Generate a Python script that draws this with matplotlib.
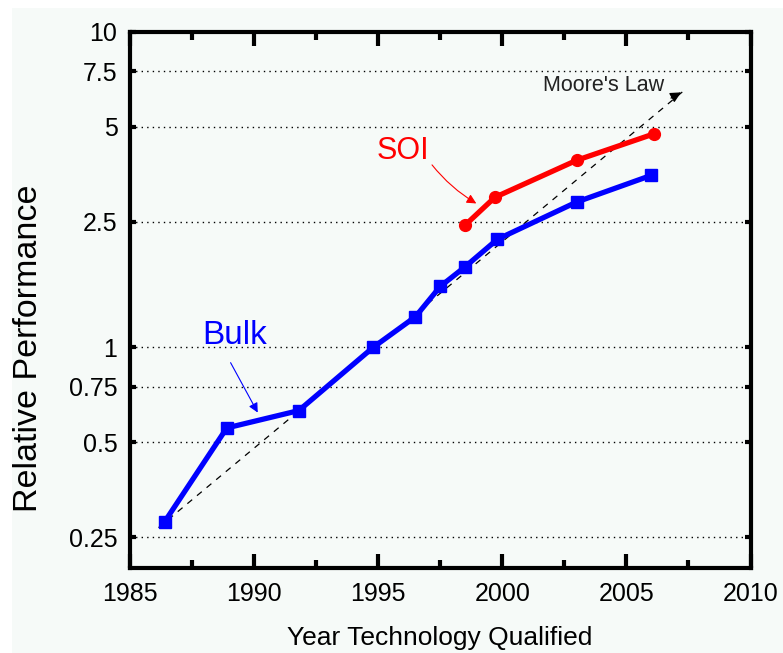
import matplotlib
matplotlib.use('Agg')
import matplotlib.pyplot as plt
from matplotlib.patches import Rectangle

plt.rcParams['font.family'] = ['Liberation Sans', 'DejaVu Sans']

# data
bulk_years = [1986.4, 1988.9, 1991.8, 1994.8, 1996.5, 1997.5, 1998.5, 1999.8, 2003.0, 2006.0]
bulk_perf  = [0.28, 0.555, 0.63, 1.0, 1.25, 1.56, 1.80, 2.20, 2.89, 3.51]
soi_years  = [1998.5, 1999.7, 2003.0, 2006.1]
soi_perf   = [2.44, 2.99, 3.92, 4.75]
moore_years = [1986.15, 2007.3]
moore_perf  = [0.268, 6.5]

ytick_vals   = [0.25, 0.5, 0.75, 1, 2.5, 5, 7.5, 10]
ytick_labels = ["0.25", "0.5", "0.75", "1", "2.5", "5", "7.5", "10"]
xtick_major  = [1985, 1990, 1995, 2000, 2005, 2010]
xtick_minor  = [1987.5, 1992.5, 1997.5, 2002.5, 2007.5]

BG = "#f6faf8"

fig = plt.figure(figsize=(7.83, 6.53), dpi=100)
fig.patch.set_facecolor("white")
fig.add_artist(Rectangle((12 / 783, 0), 1 - 12 / 783, 1 - 8 / 653,
                         transform=fig.transFigure, facecolor=BG,
                         edgecolor="none", zorder=-10))

ax = fig.add_axes([0.166, 0.1306, 0.7925, 0.8204])
ax.set_facecolor(BG)
ax.set_yscale("log")
ax.set_xlim(1985, 2010)
ax.set_ylim(0.2, 10)

# dotted horizontal grid at labelled values
for v in ytick_vals[:-1]:
    ax.axhline(v, color="black", lw=1.0, ls=(0, (1, 3)), zorder=1)

# Moore's law trend
ax.plot(moore_years, moore_perf, color="black", lw=0.9, ls=(0, (5, 5)), zorder=2)
ax.annotate("", xy=(moore_years[1], moore_perf[1]),
            xytext=(moore_years[1] - 0.6, moore_perf[1] * 0.94),
            arrowprops=dict(arrowstyle="-|>", color="black", lw=0.9,
                            mutation_scale=16), zorder=2)

ax.plot(bulk_years, bulk_perf, color="#0000ff", lw=3.8, marker="s",
        markersize=9, zorder=4)
ax.plot(soi_years, soi_perf, color="#ff0000", lw=3.8, marker="o",
        markersize=8.5, zorder=4)

ax.text(2004.1, 6.79, "Moore's Law", fontsize=15.5, color="#222222",
        ha="center", va="center")
ax.text(1989.2, 1.09, "Bulk", fontsize=24, color="#0000ff",
        ha="center", va="center")
ax.text(1996.0, 4.2, "SOI", fontsize=22, color="#ff0000",
        ha="center", va="center")

ax.annotate("", xy=(1990.2, 0.61), xytext=(1989.0, 0.91),
            arrowprops=dict(arrowstyle="-|>", color="#0000ff", lw=0.8,
                            mutation_scale=14))
ax.annotate("", xy=(1999.05, 2.83), xytext=(1997.1, 3.85),
            arrowprops=dict(arrowstyle="-|>", color="#ff0000", lw=0.8,
                            mutation_scale=14,
                            connectionstyle="arc3,rad=0.1"))

ax.set_yticks(ytick_vals)
ax.set_yticklabels(ytick_labels)
ax.yaxis.set_minor_locator(matplotlib.ticker.NullLocator())
ax.set_xticks(xtick_major)
ax.set_xticks(xtick_minor, minor=True)

ax.tick_params(axis="both", which="both", direction="in", top=True, right=True,
               labelsize=18, color="black", width=3)
ax.tick_params(axis="x", which="major", length=10, pad=10)
ax.tick_params(axis="x", which="minor", length=6)
ax.tick_params(axis="y", which="major", length=4, pad=9)

for s in ax.spines.values():
    s.set_linewidth(3)

ax.set_xlabel("Year Technology Qualified", fontsize=19, va="top")
ax.xaxis.set_label_coords(0.4996, -0.108)
ax.set_ylabel("Relative Performance", fontsize=24.5, va="center")
ax.yaxis.set_label_coords(-0.163, 0.41)

fig.savefig("out.png", dpi=100, facecolor=fig.get_facecolor())
